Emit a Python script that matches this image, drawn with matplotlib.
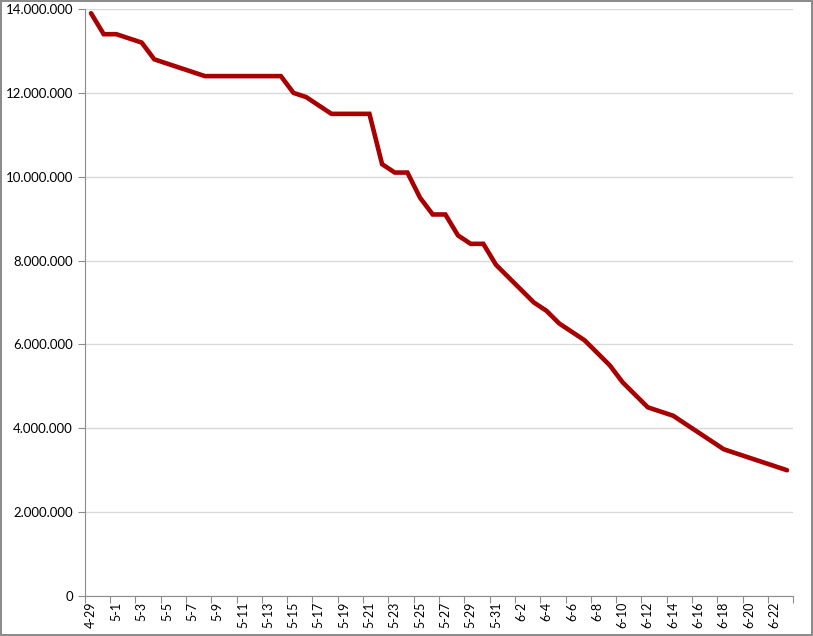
import numpy as np
import matplotlib.pyplot as plt
from matplotlib.ticker import FuncFormatter, FixedLocator

# daily dates, 4-29 to 6-23
dates = ['4-29', '4-30'] + ['5-%d' % d for d in range(1, 32)] + ['6-%d' % d for d in range(1, 24)]

# values in millions
values_m = [13.9, 13.4, 13.4, 13.3, 13.2, 12.8, 12.7, 12.6, 12.5, 12.4,
            12.4, 12.4, 12.4, 12.4, 12.4, 12.4, 12.0, 11.9, 11.7, 11.5,
            11.5, 11.5, 11.5, 10.3, 10.1, 10.1, 9.5, 9.1, 9.1, 8.6,
            8.4, 8.4, 7.9, 7.6, 7.3, 7.0, 6.8, 6.5, 6.3, 6.1,
            5.8, 5.5, 5.1, 4.8, 4.5, 4.4, 4.3, 4.1, 3.9, 3.7,
            3.5, 3.4, 3.3, 3.2, 3.1, 3.0]
values = [v * 1e6 for v in values_m]

plt.rcParams['font.family'] = ['Lato', 'DejaVu Sans']

fig = plt.figure(figsize=(8.13, 6.36), dpi=100)
fig.patch.set_edgecolor('#8c8c8c')
fig.patch.set_linewidth(1.5)
ax = fig.add_axes([0.1042, 0.0629, 0.8716, 0.9229])

x = np.arange(len(dates))
ax.plot(x, values, color='#a80000', linewidth=3.3, solid_capstyle='round', solid_joinstyle='miter')

ax.set_xlim(-0.5, len(dates) - 0.5)
ax.set_ylim(0, 14e6)
ax.set_yticks(np.arange(0, 14e6 + 1, 2e6))
ax.yaxis.set_major_formatter(FuncFormatter(lambda v, p: f"{v:,.0f}".replace(',', '.')))
ax.grid(axis='y', color='#d9d9d9', linewidth=1)
ax.set_axisbelow(True)

# tick marks between categories, labels on every other category
ax.xaxis.set_major_locator(FixedLocator(np.arange(-0.5, len(dates), 2)))
ax.xaxis.set_minor_locator(FixedLocator(x[::2]))
ax.set_xticklabels([])
ax.set_xticklabels([dates[i] for i in x[::2]], minor=True, rotation=90)
ax.tick_params(axis='x', which='major', length=5, color='#8c8c8c')
ax.tick_params(axis='x', which='minor', length=0, pad=4, labelsize=9)
ax.tick_params(axis='y', length=5, color='#8c8c8c', labelsize=9.5)

for s in ['top', 'right']:
    ax.spines[s].set_visible(False)
for s in ['left', 'bottom']:
    ax.spines[s].set_color('#8c8c8c')

fig.savefig('out.png', dpi=100, edgecolor=fig.get_edgecolor())
